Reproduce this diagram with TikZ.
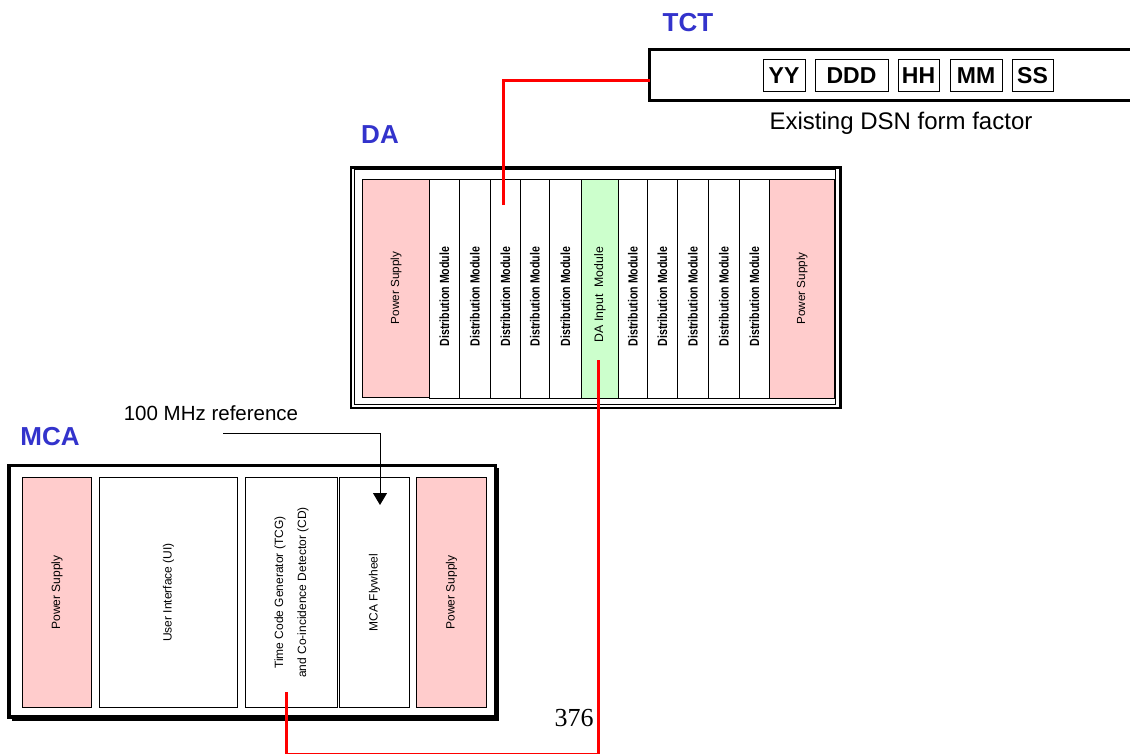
\documentclass[tikz,border=0pt]{standalone}
\usepackage{fontspec}
\setmainfont{Liberation Sans}
\newfontfamily\numfont{Liberation Serif}
\usetikzlibrary{arrows.meta}
\definecolor{lblue}{RGB}{51,51,204}
\definecolor{psfill}{RGB}{255,204,204}
\definecolor{infill}{RGB}{204,255,204}
\begin{document}
\begin{tikzpicture}[x=1pt,y=-1pt,
  modbox/.style={draw, line width=1pt, inner sep=0pt, anchor=north west},
  blabel/.style={font=\bfseries\fontsize{26}{26}\selectfont, text=lblue},
  dmtext/.style={rotate=90, yscale=1.25, transform shape, font=\bfseries\fontsize{10.6}{12}\selectfont},
  pstext/.style={rotate=90, font=\fontsize{11.7}{13}\selectfont},
  mctext/.style={rotate=90, font=\fontsize{12}{23}\selectfont, align=center},
  tfield/.style={draw, line width=0.8pt, inner sep=0pt, font=\bfseries\fontsize{23}{23}\selectfont},
  redline/.style={draw=red, line width=3pt},
  frameline/.style={line width=2.6pt}]
\useasboundingbox[fill=white] (0,0) rectangle (1130,753);

% ---------- TCT ----------
\node[blabel] (tctlabel) at (688,23) {TCT};
\draw[line width=3pt] (1131,49.5) -- (649.5,49.5) -- (649.5,100) -- (1131,100);
\coordinate (tctin) at (649.5,80);
\node[tfield, minimum width=42pt, minimum height=32pt] (yy) at (784,75.5) {YY};
\node[tfield, minimum width=73pt, minimum height=32pt] (ddd) at (851.5,75.5) {DDD};
\node[tfield, minimum width=41pt, minimum height=32pt] (hh) at (918.5,75.5) {HH};
\node[tfield, minimum width=52pt, minimum height=32pt] (mm) at (976,75.5) {MM};
\node[tfield, minimum width=41pt, minimum height=32pt] (ss) at (1032.5,75.5) {SS};
\node[font=\fontsize{24}{24}\selectfont] (dsn) at (901,123) {Existing DSN form factor};

% ---------- DA ----------
\node[blabel] (dalabel) at (380,135) {DA};
\draw[frameline] (351,167.3) rectangle (840.5,408);
\draw[line width=0.8pt] (354.5,169.8) rectangle (835.8,404);
\node[modbox, fill=psfill, minimum width=67pt, minimum height=218pt] (daps1) at (362,178.5) {};
\node[pstext] at (daps1.center) {Power Supply};
\foreach \a/\b/\i in {429/459/1, 459/490/2, 490/520/3, 520/549/4, 549/581/5,
                      618/647/6, 647/677/7, 677/708/8, 708/739/9, 739/769/10}{
  \node[modbox, fill=white, minimum width={(\b-\a)*1pt}, minimum height=219pt] (dm\i) at (\a,178.5) {};
  \node[dmtext] at ([yshift=-8pt]dm\i.center) {Distribution Module};
}
\node[modbox, fill=infill, minimum width=37pt, minimum height=219pt] (dain) at (581,178.5) {};
\node[rotate=90, font=\fontsize{12.3}{13}\selectfont] at ([yshift=-6pt]dain.center) {DA Input\ \ Module};
\node[modbox, fill=psfill, minimum width=65pt, minimum height=219pt] (daps2) at (769,178.5) {};
\node[pstext] at (daps2.center) {Power Supply};

% ---------- MCA ----------
\node[blabel] (mcalabel) at (50,437) {MCA};
\node[font=\fontsize{20.5}{21}\selectfont] (refl) at (211,413) {100 MHz reference};
\draw[line width=3.5pt] (9,465.5) rectangle (495.5,717);
\draw[line width=2pt] (12,719.5) -- (498,719.5) -- (498,468);
\node[modbox, fill=psfill, minimum width=69pt, minimum height=230pt] (mcaps1) at (22,477) {};
\node[mctext] at (mcaps1.center) {Power Supply};
\node[modbox, fill=white, minimum width=138pt, minimum height=230pt] (ui) at (99,477) {};
\node[mctext] at (ui.center) {User Interface (UI)};
\node[modbox, fill=white, minimum width=92pt, minimum height=230pt] (tcg) at (245,477) {};
\node[mctext] at (tcg.center) {Time Code Generator (TCG)\\and Co-incidence Detector (CD)};
\node[modbox, fill=white, minimum width=70pt, minimum height=230pt] (fw) at (339,477) {};
\node[mctext] at (fw.center) {MCA Flywheel};
\node[modbox, fill=psfill, minimum width=70pt, minimum height=230pt] (mcaps2) at (416,477) {};
\node[mctext] at (mcaps2.center) {Power Supply};

\node[font=\numfont\fontsize{26}{26}\selectfont] (pg) at (574,718) {376};

% ---------- connectors ----------
\coordinate (dmtap) at (503.5,205);
\draw[redline] (dmtap) |- (tctin);
\coordinate (intap) at (598,360);
\coordinate (tcgtap) at (286,692);
\coordinate (bot) at (0,754.35);
\draw[redline] (intap) -- (intap |- bot) -- (tcgtap |- bot) -- (tcgtap);
\coordinate (refstart) at (223,433);
\coordinate (fwtap) at (380,505);
\draw[line width=1pt, -{Triangle[width=14pt,length=12pt]}] (refstart) -| (fwtap);
\end{tikzpicture}
\end{document}
